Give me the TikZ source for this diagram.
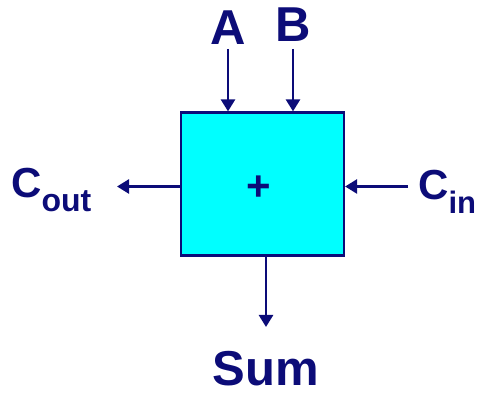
\documentclass[tikz,border=0pt]{standalone}
\usepackage{fontspec}
\setmainfont{Liberation Sans}
\usetikzlibrary{arrows.meta}
\definecolor{navy}{RGB}{12,12,120}
\definecolor{boxcyan}{RGB}{0,255,255}
\tikzset{
  lbl/.style={inner sep=0pt, anchor=base, text=navy, font=\bfseries},
  sig/.style={draw=navy, line width=2.6pt, -{Triangle[width=14pt,length=12pt]}},
}
\begin{document}
\begin{tikzpicture}[x=1pt,y=1pt]
\useasboundingbox (0,0) rectangle (483,393);
\node[draw=navy, line width=2.6pt, fill=boxcyan, minimum width=163pt, minimum height=143pt, inner sep=0pt, anchor=south west] (box) at (179.5,136) {};
\node[text=navy, font=\bfseries\fontsize{42}{42}\selectfont, inner sep=0pt] (plus) at (259,205) {+};
\node[lbl, font=\bfseries\fontsize{49}{49}\selectfont] (A) at (228,348) {A};
\node[lbl, font=\bfseries\fontsize{49}{49}\selectfont] (B) at (293,351) {B};
\node[lbl, font=\bfseries\fontsize{49}{49}\selectfont] (S) at (266,7) {Sum};
\node[lbl, anchor=base west, font=\bfseries\fontsize{42}{42}\selectfont] (Co) at (11,195) {C\raisebox{-14pt}{\fontsize{32}{32}\selectfont out}};
\node[lbl, anchor=base west, font=\bfseries\fontsize{42}{42}\selectfont] (Ci) at (418,193) {C\raisebox{-14pt}{\fontsize{31}{31}\selectfont in}};
\coordinate (atail) at (228,344);
\coordinate (btail) at (293,344);
\coordinate (cotip) at (117,206.5);
\coordinate (citail) at (408,206.5);
\coordinate (stip) at (266,66);
\draw[sig] (atail) -- (atail |- box.north);
\draw[sig] (btail) -- (btail |- box.north);
\draw[sig] (cotip -| box.west) -- (cotip);
\draw[sig] (citail) -- (citail -| box.east);
\draw[sig] (stip |- box.south) -- (stip);
\end{tikzpicture}
\end{document}
